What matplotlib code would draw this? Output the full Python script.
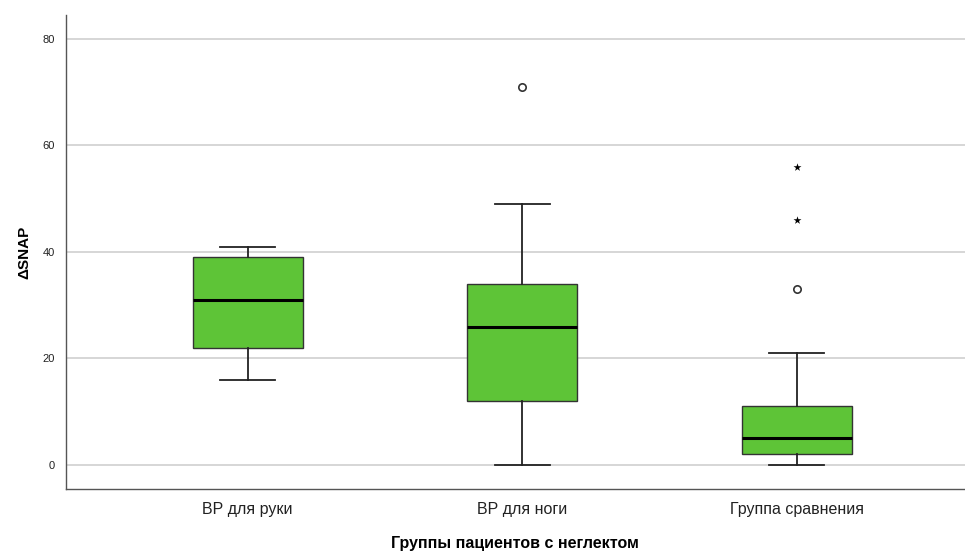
import numpy as np
import matplotlib
matplotlib.use("Agg")
import matplotlib.pyplot as plt

plt.rcParams["font.family"] = ["Liberation Sans", "DejaVu Sans"]

# boxplot summaries
groups = ["ВР для руки", "ВР для ноги", "Группа сравнения"]
whisk_lo = [16, 0, 0]
q1 = [22, 12, 2]
median = [31, 26, 5]
q3 = [39, 34, 11]
whisk_hi = [41, 49, 21]
out_circle = [[], [71], [33]]      # outliers (o)
out_star = [[], [], [46, 56]]      # extreme values (*)

green = "#5ec437"

fig = plt.figure(figsize=(9.65, 5.51), dpi=100)
ax = fig.add_axes([0.068, 0.1125, 0.932, 0.8605])

stats = []
for i in range(3):
    stats.append(dict(med=median[i], q1=q1[i], q3=q3[i],
                      whislo=whisk_lo[i], whishi=whisk_hi[i], fliers=[]))
pos = np.arange(len(groups))
ax.bxp(stats, positions=pos, widths=0.4, patch_artist=True, showfliers=False,
       boxprops=dict(facecolor=green, edgecolor="#333333", linewidth=1.0),
       medianprops=dict(color="black", linewidth=2.2),
       whiskerprops=dict(color="#222222", linewidth=1.3),
       capprops=dict(color="#222222", linewidth=1.3),
       capwidths=0.2, zorder=3)

for i in range(3):
    if out_circle[i]:
        ax.scatter([pos[i]] * len(out_circle[i]), out_circle[i], s=28, marker="o",
                   facecolor="white", edgecolor="#333333", linewidth=1.2, zorder=4)
    if out_star[i]:
        ax.scatter([pos[i]] * len(out_star[i]), out_star[i], s=36, marker="*",
                   color="black", linewidth=0, zorder=4)

ax.set_xlim(-0.663, 2.612)
ax.set_ylim(-4.5, 84.5)
ax.set_yticks([0, 20, 40, 60, 80])
ax.yaxis.grid(True, color="#cfcfcf", linewidth=1.2, zorder=0)
ax.set_axisbelow(True)
ax.tick_params(axis="both", length=0)
ax.tick_params(axis="y", labelsize=8, pad=8, colors="#222222")
ax.tick_params(axis="x", labelsize=11.5, pad=9, colors="#222222")
ax.set_xticks(pos)
ax.set_xticklabels(groups)
for s in ["top", "right"]:
    ax.spines[s].set_visible(False)
for s in ["left", "bottom"]:
    ax.spines[s].set_color("#555555")
    ax.spines[s].set_linewidth(1.0)

ax.set_xlabel("Группы пациентов с неглектом", fontsize=11.5, fontweight="bold", labelpad=14)
ax.set_ylabel("ΔSNAP", fontsize=11, fontweight="bold", labelpad=8)

fig.savefig("out.png", dpi=100)
